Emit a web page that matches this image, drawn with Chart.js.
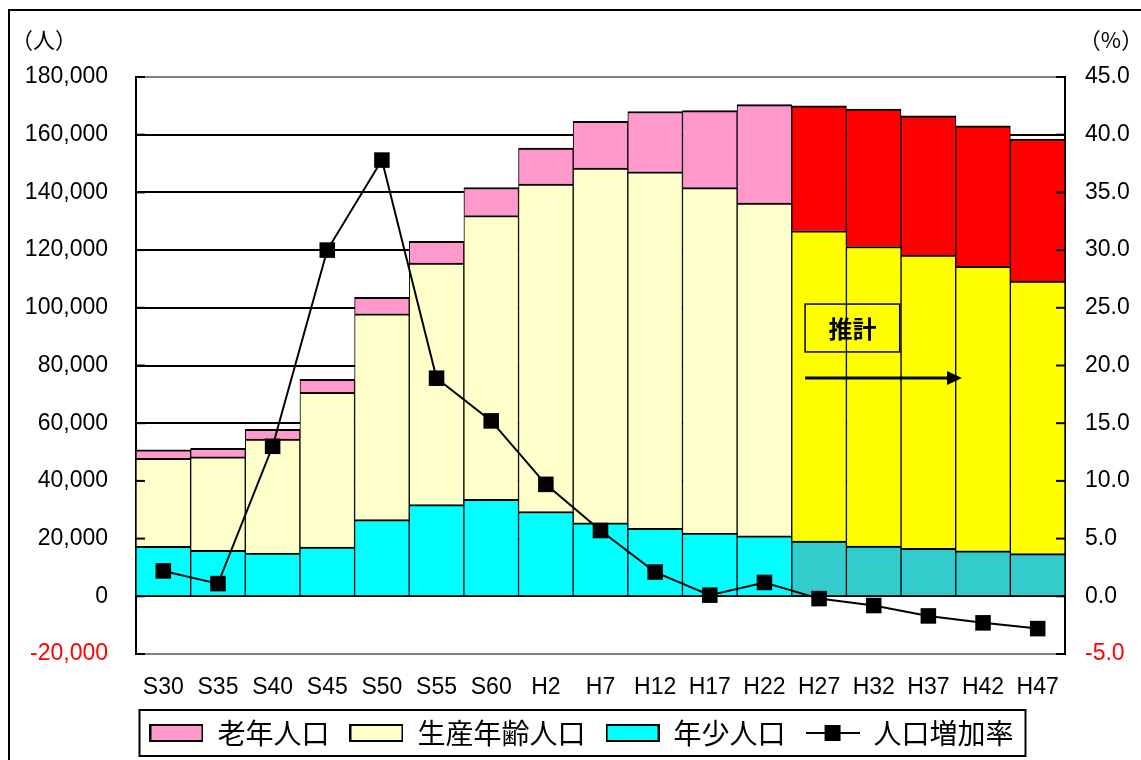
<!DOCTYPE html>
<html>
<head>
<meta charset="utf-8">
<script src="https://cdn.jsdelivr.net/npm/chart.js@4.4.1/dist/chart.umd.min.js"></script>
<style>
html, body { margin: 0; padding: 0; background: #fff; overflow: hidden; }
#wrap { position: relative; width: 1141px; height: 760px; }
</style>
</head>
<body>
<div id="wrap"><canvas id="popChart" width="1141" height="760"></canvas></div>
<script>
// 年次（S=昭和, H=平成）
var years = ['S30', 'S35', 'S40', 'S45', 'S50', 'S55', 'S60', 'H2', 'H7', 'H12', 'H17', 'H22', 'H27', 'H32', 'H37', 'H42', 'H47'];

// 人口（人）
var youngPop = [17300, 15900, 15000, 17100, 26550, 31750, 33600, 29400, 25500, 23550, 21950, 21000, 19150, 17450, 16600, 15800, 14800];
var workPop  = [30500, 32400, 39500, 53600, 71350, 83750, 98400, 113500, 122950, 123600, 119700, 115300, 107550, 103800, 101700, 98550, 94500];
var oldPop   = [3000, 3000, 3400, 4500, 5750, 7500, 9700, 12500, 16150, 20900, 26700, 34100, 43350, 47650, 48250, 48750, 49200];

// 人口増加率（%）
var growthRate = [2.2, 1.1, 13.0, 30.0, 37.8, 18.9, 15.2, 9.7, 5.7, 2.1, 0.1, 1.2, -0.2, -0.8, -1.7, -2.3, -2.8];

var firstEstimate = 12; // H27以降は推計

function colorsFor(normal, est) {
    return years.map(function (y, i) { return i >= firstEstimate ? est : normal; });
}

function swatch(fill) {
    var c = document.createElement('canvas');
    c.width = 54; c.height = 18;
    var g = c.getContext('2d');
    g.fillStyle = fill;
    g.fillRect(1, 1, 52, 16);
    g.strokeStyle = '#000';
    g.lineWidth = 2;
    g.strokeRect(1, 1, 52, 16);
    return c;
}

function lineSwatch() {
    var c = document.createElement('canvas');
    c.width = 54; c.height = 18;
    var g = c.getContext('2d');
    g.strokeStyle = '#000';
    g.lineWidth = 2;
    g.beginPath(); g.moveTo(0, 9); g.lineTo(54, 9); g.stroke();
    g.fillStyle = '#000';
    g.fillRect(19, 1, 16, 16);
    return c;
}

var barBorder = {top: 2, left: 1, right: 1, bottom: 0};

var framePlugin = {
    id: 'frame',
    beforeDraw: function (chart) {
        var ctx = chart.ctx;
        ctx.save();
        ctx.fillStyle = '#fff';
        ctx.fillRect(0, 0, chart.width, chart.height);
        ctx.strokeStyle = '#000';
        ctx.lineWidth = 2;
        ctx.strokeRect(9, 10, 1300, 900);
        ctx.restore();
    },
    afterDatasetsDraw: function (chart) {
        var ctx = chart.ctx, area = chart.chartArea;
        var ys = chart.scales.y, ys1 = chart.scales.y1, xs = chart.scales.x;
        ctx.save();
        // 目盛り（内向き）
        ctx.strokeStyle = '#000';
        ctx.lineWidth = 2;
        ys.ticks.forEach(function (t) {
            var p = ys.getPixelForValue(t.value);
            ctx.beginPath(); ctx.moveTo(area.left, p); ctx.lineTo(area.left + 9, p); ctx.stroke();
        });
        ys1.ticks.forEach(function (t) {
            var p = ys1.getPixelForValue(t.value);
            ctx.beginPath(); ctx.moveTo(area.right - 9, p); ctx.lineTo(area.right, p); ctx.stroke();
        });
        // 推計の枠と矢印
        var bx0 = xs.getPixelForValue(12) - 14;
        var bx1 = xs.getPixelForValue(13) + 26;
        var by0 = ys.getPixelForValue(101300);
        var by1 = ys.getPixelForValue(84700);
        ctx.lineWidth = 1.5;
        ctx.strokeRect(bx0, by0, bx1 - bx0, by1 - by0);
        ctx.fillStyle = '#000';
        ctx.font = 'bold 24px "Noto Sans CJK JP"';
        ctx.textAlign = 'center';
        ctx.textBaseline = 'middle';
        ctx.fillText('推計', (bx0 + bx1) / 2, (by0 + by1) / 2 + 1);
        var ay = ys.getPixelForValue(75700);
        var ax1 = xs.getPixelForValue(15) - 21;
        ctx.lineWidth = 3;
        ctx.beginPath(); ctx.moveTo(bx0, ay); ctx.lineTo(ax1 - 12, ay); ctx.stroke();
        ctx.beginPath();
        ctx.moveTo(ax1, ay); ctx.lineTo(ax1 - 15, ay - 7); ctx.lineTo(ax1 - 15, ay + 7);
        ctx.closePath(); ctx.fill();
        ctx.restore();
    },
    afterDraw: function (chart) {
        var ctx = chart.ctx;
        ctx.save();
        ctx.fillStyle = '#000';
        ctx.font = '22px "Noto Sans CJK JP"';
        ctx.textBaseline = 'middle';
        ctx.textAlign = 'center';
        ctx.fillText('（人）', 44, 40);
        ctx.fillText('（%）', 1111, 40);
        // 凡例の枠
        var hb = chart.legend.legendHitBoxes;
        if (hb && hb.length) {
            var first = hb[0], last = hb[hb.length - 1];
            ctx.strokeStyle = '#000';
            ctx.lineWidth = 2;
            ctx.strokeRect(first.left - 10, first.top - 9, last.left + last.width + 12 - (first.left - 10), first.height + 18);
        }
        ctx.restore();
    }
};

var ctx = document.getElementById('popChart');

var popChart = new Chart(ctx, {
    type: 'bar',
    data: {
        labels: years,
        datasets: [{
            label: '人口増加率',
            type: 'line',
            data: growthRate,
            yAxisID: 'y1',
            borderColor: '#000',
            borderWidth: 2,
            pointStyle: 'rect',
            pointRadius: 11,
            pointBackgroundColor: '#000',
            pointBorderColor: '#000',
            pointBorderWidth: 0,
            tension: 0,
            order: 0
        }, {
            label: '年少人口',
            data: youngPop,
            yAxisID: 'y',
            backgroundColor: colorsFor('#00FFFF', '#33CCCC'),
            borderColor: '#000',
            borderWidth: barBorder,
            order: 1
        }, {
            label: '生産年齢人口',
            data: workPop,
            yAxisID: 'y',
            backgroundColor: colorsFor('#FFFFCC', '#FFFF00'),
            borderColor: '#000',
            borderWidth: barBorder,
            order: 1
        }, {
            label: '老年人口',
            data: oldPop,
            yAxisID: 'y',
            backgroundColor: colorsFor('#FF99CC', '#FF0000'),
            borderColor: '#000',
            borderWidth: barBorder,
            order: 1
        }]
    },
    options: {
        responsive: false,
        animation: false,
        devicePixelRatio: 1,
        layout: {
            padding: {left: 22, right: 0, top: 77, bottom: 3}
        },
        datasets: {
            bar: {
                barPercentage: 1.0,
                categoryPercentage: 1.0,
                borderSkipped: false
            }
        },
        plugins: {
            tooltip: {enabled: false},
            legend: {
                position: 'bottom',
                onClick: null,
                labels: {
                    usePointStyle: true,
                    pointStyleWidth: 54,
                    boxHeight: 16,
                    padding: 20,
                    color: '#000',
                    font: {family: '"Noto Sans CJK JP"', size: 28},
                    generateLabels: function (chart) {
                        return [
                            {text: '老年人口', pointStyle: swatch('#FF99CC'), datasetIndex: 3, lineWidth: 0},
                            {text: '生産年齢人口', pointStyle: swatch('#FFFFCC'), datasetIndex: 2, lineWidth: 0},
                            {text: '年少人口', pointStyle: swatch('#00FFFF'), datasetIndex: 1, lineWidth: 0},
                            {text: '人口増加率', pointStyle: lineSwatch(), datasetIndex: 0, lineWidth: 0}
                        ];
                    }
                }
            }
        },
        scales: {
            x: {
                stacked: true,
                grid: {display: false, drawTicks: false},
                border: {display: true, color: '#808080', width: 2},
                ticks: {
                    color: '#000',
                    padding: 20,
                    maxRotation: 0,
                    autoSkip: false,
                    font: {family: '"Liberation Sans"', size: 23}
                },
                afterFit: function (scale) { scale.height = 45; }
            },
            y: {
                stacked: true,
                position: 'left',
                min: -20000,
                max: 180000,
                grid: {
                    drawTicks: false,
                    lineWidth: 2,
                    color: function (c) {
                        var v = c.tick && c.tick.value;
                        return (v === 180000 || v === -20000) ? '#808080' : '#000';
                    }
                },
                border: {display: true, color: '#000', width: 2},
                ticks: {
                    stepSize: 20000,
                    padding: 28,
                    font: {family: '"Liberation Sans"', size: 23},
                    color: function (c) { return c.tick.value < 0 ? '#FF0000' : '#000'; },
                    callback: function (v) { return v.toLocaleString('en-US'); }
                },
                afterFit: function (scale) { scale.width = 114; }
            },
            y1: {
                position: 'right',
                min: -5,
                max: 45,
                grid: {display: false, drawTicks: false},
                border: {display: true, color: '#000', width: 2},
                ticks: {
                    stepSize: 5,
                    padding: 20,
                    font: {family: '"Liberation Sans"', size: 23},
                    color: function (c) { return c.tick.value < 0 ? '#FF0000' : '#000'; },
                    callback: function (v) { return v.toFixed(1); }
                },
                afterFit: function (scale) { scale.width = 76; }
            }
        }
    },
    plugins: [framePlugin]
});
</script>
</body>
</html>
